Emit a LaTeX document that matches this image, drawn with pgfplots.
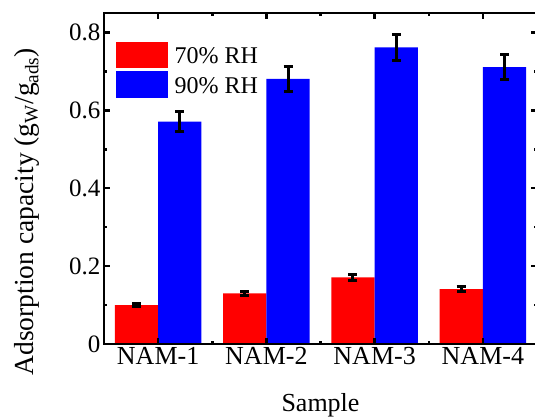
\documentclass[border=0pt]{standalone}
\usepackage{fontspec}
\setmainfont{Liberation Serif}
\usepackage{pgfplots}
\pgfplotsset{compat=1.18}
\begin{document}
\begin{tikzpicture}[x=1pt,y=1pt]
\begin{axis}[
  at={(104pt,74pt)}, anchor=south west,
  scale only axis, width=433pt, height=331pt,
  ybar=0pt, bar width=43.3pt,
  xmin=-0.5, xmax=3.5, ymin=0, ymax=0.85,
  xtick={0,1,2,3}, xticklabels={NAM-1,NAM-2,NAM-3,NAM-4},
  minor xtick={0.5,1.5,2.5},
  ytick={0,0.2,0.4,0.6,0.8}, minor ytick={0.1,0.3,0.5,0.7},
  tick align=inside,
  major tick length=6pt, minor tick length=3pt,
  tick style={black, line width=2.5pt},
  axis line style={black, line width=2.8pt},
  axis on top,
  /pgf/number format/assume math mode=true,
  x tick label style={font=\fontsize{26}{30}\selectfont},
  y tick label style={font=\fontsize{25}{30}\selectfont},
  xlabel={Sample},
  xlabel style={font=\fontsize{26}{30}\selectfont, at={(axis description cs:0.5,0)}, anchor=base, yshift=-67.7pt},
  ylabel={Adsorption capacity (g\textsubscript{W}/g\textsubscript{ads})},
  ylabel style={font=\fontsize{27.5}{32}\selectfont, at={([xshift=-70.5pt]axis description cs:0,0.4)}, anchor=base},
  legend cell align=left,
  legend style={draw=none, fill=none, at={(0.027,0.913)}, anchor=north west,
    inner sep=0pt, outer sep=0pt, column sep=7pt, row sep=3.1pt,
    font=\fontsize{24}{28}\selectfont, nodes={inner sep=0pt, anchor=base west}},
]
\addplot[fill=red, draw=none,
  legend image code/.code={\fill[red] (0pt,-4.5pt) rectangle (52pt,21.8pt);},
  error bars/.cd, y dir=both, y explicit,
  error bar style={black, line width=3pt},
  error mark options={rotate=90, black, line width=3pt, mark size=4.5pt}]
  coordinates {(0,0.100) +- (0,0.004) (1,0.130) +- (0,0.006) (2,0.171) +- (0,0.007) (3,0.141) +- (0,0.0065)};
\addplot[fill=blue, draw=none,
  legend image code/.code={\fill[blue] (0pt,-4.5pt) rectangle (52pt,21.8pt);},
  error bars/.cd, y dir=both, y explicit,
  error bar style={black, line width=3pt},
  error mark options={rotate=90, black, line width=3pt, mark size=4.5pt}]
  coordinates {(0,0.571) +- (0,0.026) (1,0.681) +- (0,0.032) (2,0.762) +- (0,0.034) (3,0.711) +- (0,0.033)};
\legend{70\% RH, 90\% RH}
\end{axis}
\pgfresetboundingbox
\useasboundingbox (0,0) rectangle (535,418);
\end{tikzpicture}
\end{document}
